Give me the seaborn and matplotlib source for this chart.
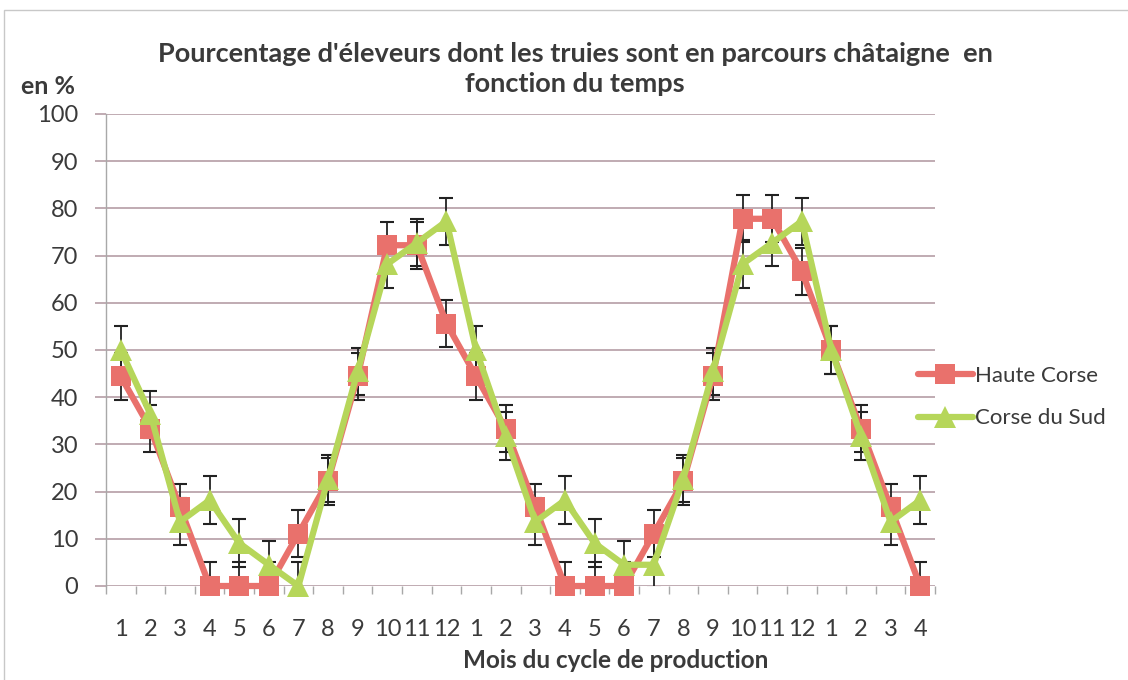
import numpy as np
import pandas as pd
import matplotlib
matplotlib.use("Agg")
import matplotlib.pyplot as plt
import seaborn as sns
from matplotlib.patches import Rectangle

# months of the production cycle (x axis, 28 categories)
months = [1, 2, 3, 4, 5, 6, 7, 8, 9, 10, 11, 12,
          1, 2, 3, 4, 5, 6, 7, 8, 9, 10, 11, 12,
          1, 2, 3, 4]

haute_corse = [44.4, 33.3, 16.7, 0, 0, 0, 11.1, 22.2, 44.4, 72.2, 72.2, 55.6,
               44.4, 33.3, 16.7, 0, 0, 0, 11.1, 22.2, 44.4, 77.8, 77.8, 66.7,
               50.0, 33.3, 16.7, 0]
corse_du_sud = [50.0, 36.4, 13.6, 18.2, 9.1, 4.5, 0, 22.7, 45.5, 68.2, 72.7, 77.3,
                50.0, 31.8, 13.6, 18.2, 9.1, 4.5, 4.5, 22.7, 45.5, 68.2, 72.7, 77.3,
                50.0, 31.8, 13.6, 18.2]
error = 5  # fixed error bar value (%)

series_names = ["Haute Corse", "Corse du Sud"]
colors = {"Haute Corse": "#e9716c", "Corse du Sud": "#b6d65a"}
markers = {"Haute Corse": "s", "Corse du Sud": "^"}
marker_sizes = {"Haute Corse": 14.5, "Corse du Sud": 16}
text_color = "#3a3a3a"
grid_color = "#bba5ad"

sns.set_theme(style="white")
plt.rcParams["font.family"] = ["Lato", "DejaVu Sans"]

pos = np.arange(len(months))
df = pd.DataFrame({
    "pos": np.concatenate([pos, pos]),
    "value": haute_corse + corse_du_sud,
    "serie": ["Haute Corse"] * len(pos) + ["Corse du Sud"] * len(pos),
})

fig = plt.figure(figsize=(11.28, 6.8), dpi=100)
ax = fig.add_axes([106 / 1128, 1 - 586 / 680, 829 / 1128, 472 / 680])

for name in series_names:
    sub = df[df["serie"] == name]
    ax.errorbar(sub["pos"], sub["value"], yerr=error, fmt="none",
                ecolor="#222222", elinewidth=1.3, capsize=5, capthick=1.5,
                zorder=3)
    sns.lineplot(data=sub, x="pos", y="value", ax=ax, color=colors[name],
                 marker=markers[name], markersize=marker_sizes[name],
                 markeredgewidth=0, linewidth=4.5, label=name, zorder=4,
                 clip_on=False)

ax.set_xlim(-0.5, len(months) - 0.5)
ax.set_ylim(0, 100)
ax.set_yticks(range(0, 101, 10))
ax.set_xticks(pos)
ax.set_xticklabels([str(m) for m in months])
ax.set_xticks(np.arange(-0.5, len(months), 1), minor=True)

ax.yaxis.grid(True, color=grid_color, linewidth=1.3)
ax.set_axisbelow(True)
for side in ["top", "right", "bottom"]:
    ax.spines[side].set_visible(False)
ax.spines["left"].set_color("#a8a8a8")
ax.spines["left"].set_linewidth(1.0)

ax.tick_params(axis="y", which="major", length=8, color=grid_color, width=1.3,
               labelsize=17, labelcolor=text_color, pad=12, left=True)
ax.tick_params(axis="x", which="major", length=0, labelsize=17,
               labelcolor=text_color, pad=24)
ax.tick_params(axis="x", which="minor", length=6, color="#a8a8a8", width=1.0,
               bottom=True)

ax.set_xlabel("")
ax.set_ylabel("")
fig.text(616 / 1128, 1 - 660 / 680, "Mois du cycle de production", ha="center",
         va="center", fontsize=17.5, fontweight="bold", color=text_color)
fig.text(48 / 1128, 1 - 87 / 680, "en %", ha="center", va="center",
         fontsize=18, fontweight="bold", color=text_color)
fig.text(575 / 1128, 1 - 69 / 680,
         "Pourcentage d'éleveurs dont les truies sont en parcours châtaigne  en\nfonction du temps",
         ha="center", va="center", fontsize=19.5, fontweight="bold",
         color=text_color, linespacing=1.35)

ax.legend(loc="center left", bbox_to_anchor=(0.955, 0.40), frameon=False,
          fontsize=16, handlelength=2.5, handletextpad=0.1, labelspacing=1.0,
          labelcolor=text_color)

# scanned page frame
fig.patches.append(Rectangle((4 / 1128, -0.01), 1.1, 1 - 10 / 680 + 0.01,
                             transform=fig.transFigure, fill=False,
                             edgecolor="#c8c8c8", linewidth=1.0))

fig.savefig("out.png", dpi=100)
